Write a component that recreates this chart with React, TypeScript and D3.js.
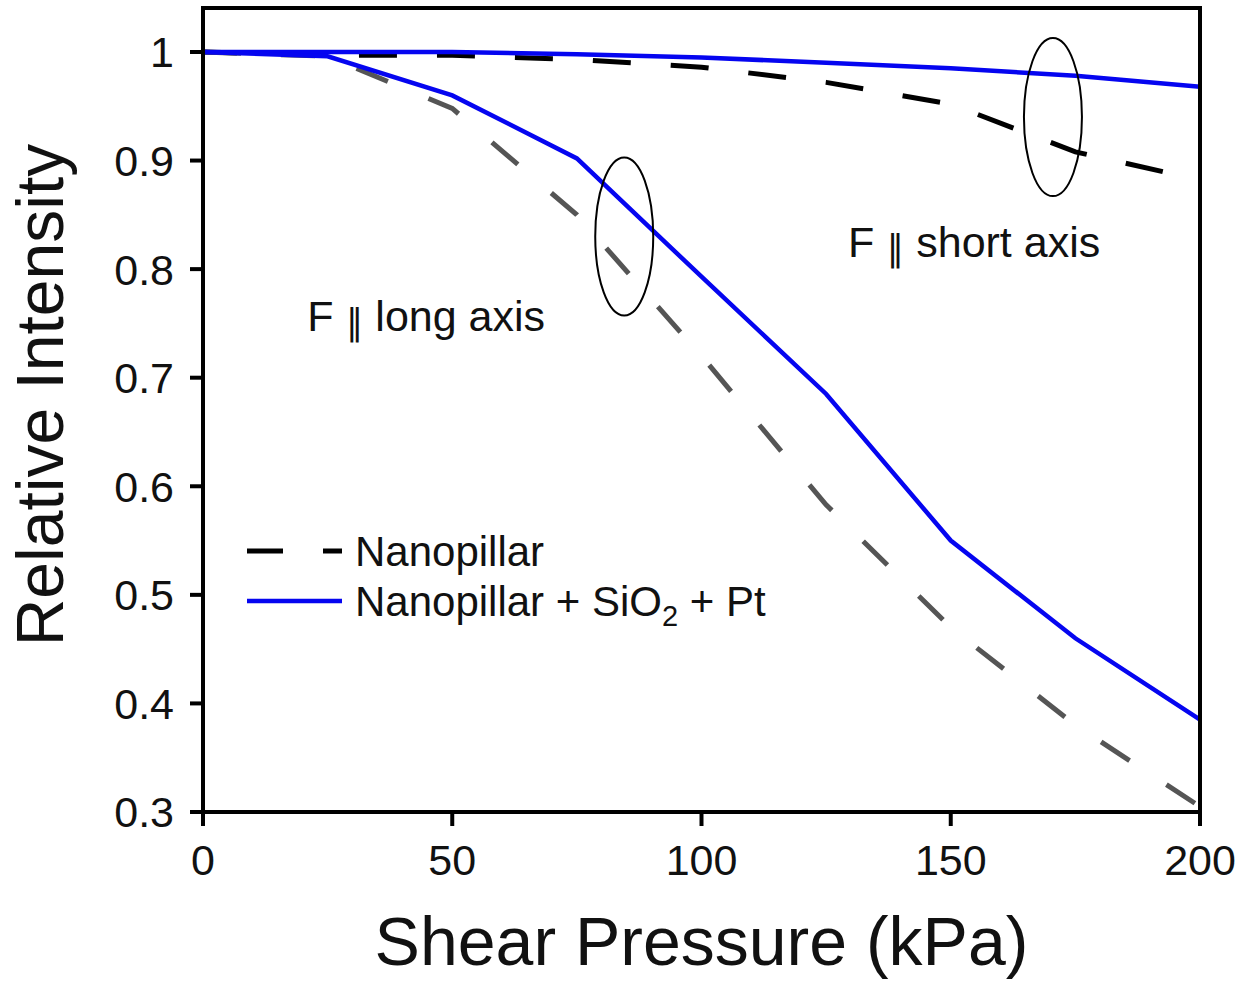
import React from "react";
import * as d3 from "d3";

const pressure = [0, 25, 50, 75, 100, 125, 150, 175, 200];
const longBare = [1, 0.996, 0.948, 0.85, 0.72, 0.583, 0.47, 0.38, 0.305];
const longCoated = [1, 0.996, 0.96, 0.902, 0.793, 0.685, 0.55, 0.46, 0.385];
const shortBare = [1, 0.997, 0.997, 0.993, 0.986, 0.972, 0.952, 0.908, 0.882];
const shortCoated = [1, 1, 1, 0.998, 0.995, 0.99, 0.985, 0.978, 0.968];

const xTicks = [0, 50, 100, 150, 200];
const yTicks = [1, 0.9, 0.8, 0.7, 0.6, 0.5, 0.4, 0.3];
const yTickLabels = ["1", "0.9", "0.8", "0.7", "0.6", "0.5", "0.4", "0.3"];

const W = 1247;
const H = 983;
const left = 203, right = 1200, top = 8, bottom = 812;
const FONT = "'Liberation Sans', Arial, Helvetica, sans-serif";
const BLUE = "#0505f0";
const GRAY = "#555555";

export default function App() {
  const x = d3.scaleLinear().domain([0, 200]).range([left, right]);
  const y = d3.scaleLinear().domain([0.3, 1.0405]).range([bottom, top]);
  const line = (vals: number[]) =>
    d3.line<number>().x((_, i) => x(pressure[i])).y((v) => y(v))(vals) || "";

  return (
    <svg width={W} height={H} style={{ position: "absolute", left: 0, top: 0, background: "#fff" }} fontFamily={FONT}>
      <rect x={0} y={0} width={W} height={H} fill="#fff" />
      {/* data lines */}
      <path d={line(shortBare)} fill="none" stroke="#000" strokeWidth={5} strokeDasharray="38,40" />
      <path d={line(longBare)} fill="none" stroke={GRAY} strokeWidth={5} strokeDasharray="34,44" />
      <path d={line(shortCoated)} fill="none" stroke={BLUE} strokeWidth={4.5} />
      <path d={line(longCoated)} fill="none" stroke={BLUE} strokeWidth={4.5} />

      {/* frame */}
      <rect x={left} y={top} width={right - left} height={bottom - top} fill="none" stroke="#000" strokeWidth={4} />

      {/* y ticks */}
      {yTicks.map((t, i) => (
        <g key={"y" + i}>
          <line x1={left - 13} x2={left} y1={y(t)} y2={y(t)} stroke="#000" strokeWidth={4} />
          <text x={left - 29} y={y(t)} dy="0.36em" textAnchor="end" fontSize={43} fill="#111">
            {yTickLabels[i]}
          </text>
        </g>
      ))}
      {/* x ticks */}
      {xTicks.map((t, i) => (
        <g key={"x" + i}>
          <line x1={x(t)} x2={x(t)} y1={bottom} y2={bottom + 14} stroke="#000" strokeWidth={4} />
          <text x={x(t)} y={bottom + 63} textAnchor="middle" fontSize={43} fill="#111">
            {t}
          </text>
        </g>
      ))}

      {/* axis titles */}
      <text x={(left + right) / 2} y={965} textAnchor="middle" fontSize={68} fill="#111">
        Shear Pressure (kPa)
      </text>
      <text transform={`translate(63, ${y(0.684)}) rotate(-90)`} textAnchor="middle" fontSize={66} fill="#111">
        Relative Intensity
      </text>

      {/* annotation ellipses */}
      <ellipse cx={x(84.5)} cy={y(0.83)} rx={29} ry={79} fill="none" stroke="#000" strokeWidth={2} />
      <ellipse cx={x(170.5)} cy={y(0.94)} rx={29} ry={79} fill="none" stroke="#000" strokeWidth={2} />

      {/* annotation labels */}
      <text x={x(129.4)} y={y(0.811)} fontSize={43} fill="#111">
        F <tspan fontSize={36} fontFamily="'DejaVu Sans', sans-serif" dy="4">∥</tspan>
        <tspan dy="-4"> short axis</tspan>
      </text>
      <text x={x(20.9)} y={y(0.743)} fontSize={43} fill="#111">
        F <tspan fontSize={36} fontFamily="'DejaVu Sans', sans-serif" dy="4">∥</tspan>
        <tspan dy="-4"> long axis</tspan>
      </text>

      {/* legend */}
      <line x1={247} x2={342} y1={551} y2={551} stroke="#000" strokeWidth={5} strokeDasharray="36,40" />
      <text x={355} y={551} dy="0.36em" fontSize={42} fill="#111">Nanopillar</text>
      <line x1={247} x2={342} y1={601} y2={601} stroke={BLUE} strokeWidth={4.5} />
      <text x={355} y={601} dy="0.36em" fontSize={42} fill="#111">
        Nanopillar + SiO<tspan fontSize={29} dy="10">2</tspan>
        <tspan dy="-10"> + Pt</tspan>
      </text>
    </svg>
  );
}
